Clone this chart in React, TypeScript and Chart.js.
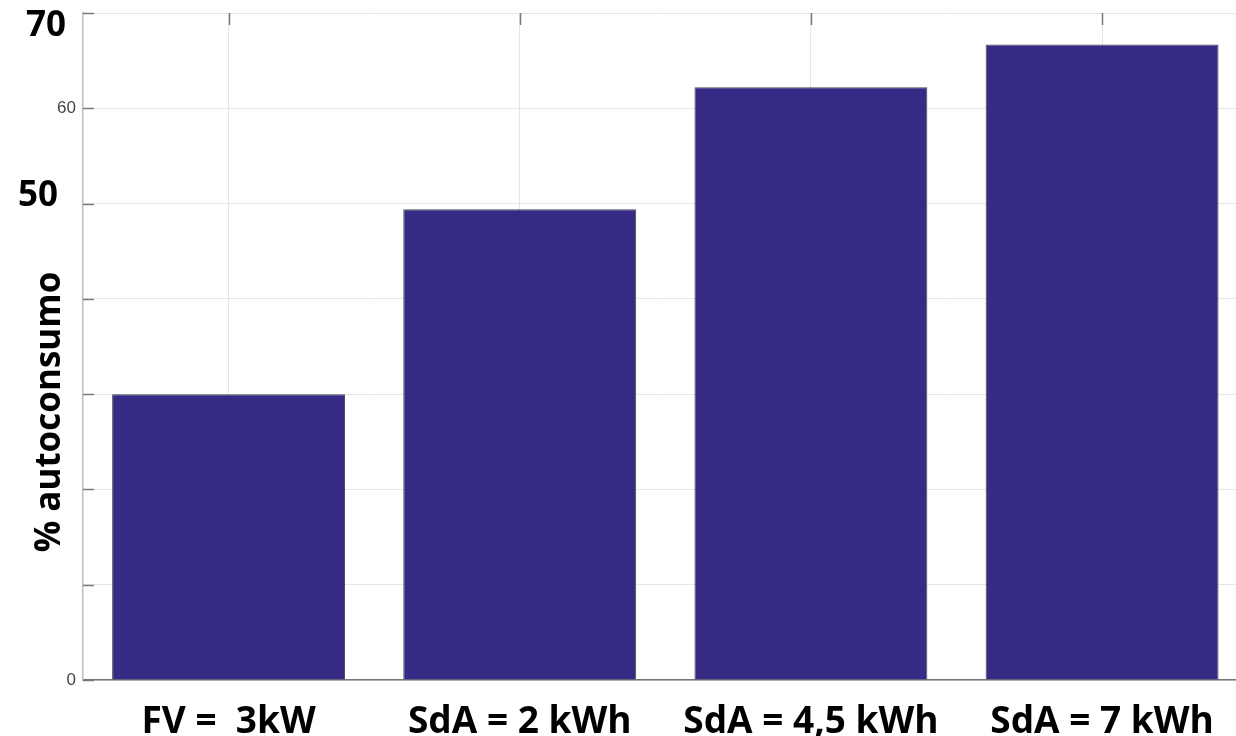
import React, { useEffect, useRef } from "react";
import { Chart, registerables } from "chart.js";

Chart.register(...registerables);

const categories = ["FV =  3kW", "SdA = 2 kWh", "SdA = 4,5 kWh", "SdA = 7 kWh"];
const values = [30, 49.4, 62.2, 66.7];
const yTitle = "% autoconsumo";
const ySmallTicks = [0, 60];
const yBigTicks = [70, 50];

const BIG_FONT = "'Open Sans'";
const SMALL_FONT = "'Liberation Sans'";

const decorPlugin = {
  id: "decor",
  afterDatasetsDraw(chart: any) {
    const { ctx, chartArea, scales } = chart;
    const y = scales.y;
    const x = scales.x;
    ctx.save();
    ctx.strokeStyle = "#7a7a7a";
    ctx.lineWidth = 1.5;
    for (let v = 0; v <= 70; v += 10) {
      const py = Math.round(y.getPixelForValue(v)) + 0.5;
      ctx.beginPath();
      ctx.moveTo(chartArea.left, py);
      ctx.lineTo(chartArea.left + 11, py);
      ctx.stroke();
    }
    categories.forEach((_, i) => {
      const px = Math.round(x.getPixelForValue(i)) + 0.5;
      ctx.beginPath();
      ctx.moveTo(px, chartArea.top);
      ctx.lineTo(px, chartArea.top + 12);
      ctx.stroke();
    });
    ctx.restore();
  },
  afterDraw(chart: any) {
    const { ctx, scales } = chart;
    const y = scales.y;
    ctx.save();
    ctx.fillStyle = "#000";
    ctx.font = `bold 35px ${BIG_FONT}`;
    ctx.textAlign = "right";
    ctx.textBaseline = "middle";
    ctx.fillText(String(yBigTicks[0]), 66, y.getPixelForValue(yBigTicks[0]) + 13);
    ctx.fillText(String(yBigTicks[1]), 58, y.getPixelForValue(yBigTicks[1]) - 8);
    ctx.translate(50, 412);
    ctx.rotate(-Math.PI / 2);
    ctx.textAlign = "center";
    ctx.fillText(yTitle, 0, 0);
    ctx.restore();
  },
};

export default function App() {
  const ref = useRef<HTMLCanvasElement | null>(null);
  useEffect(() => {
    if (!ref.current) return;
    const chart = new Chart(ref.current, {
      type: "bar",
      data: {
        datasets: [
          {
            data: values.map((v, i) => ({ x: i, y: v })),
            backgroundColor: "#352a84",
            borderColor: "#4a4a4a",
            borderWidth: 1,
            barPercentage: 0.8,
            categoryPercentage: 1,
          },
        ],
      },
      options: {
        animation: false,
        responsive: true,
        maintainAspectRatio: false,
        layout: { padding: { top: 13, left: 0, right: 0, bottom: 0 } },
        plugins: { legend: { display: false }, tooltip: { enabled: false } },
        scales: {
          x: {
            type: "linear",
            offset: false,
            min: -0.5,
            max: 3.46,
            afterBuildTicks: (scale: any) => {
              scale.ticks = categories.map((_, i) => ({ value: i }));
            },
            afterFit: (scale: any) => {
              scale.height = 56;
              scale.paddingLeft = 0;
              scale.paddingRight = 0;
            },
            grid: { color: "#e6e6e6", drawTicks: false, lineWidth: 1, offset: false },
            border: { color: "#777", width: 1.5 },
            ticks: {
              autoSkip: false,
              maxRotation: 0,
              minRotation: 0,
              padding: 20,
              color: "#000",
              font: { family: BIG_FONT, weight: "bold", size: 37 },
              callback: (v: any) => categories[Math.round(Number(v))] ?? "",
            },
          },
          y: {
            min: 0,
            max: 70,
            afterFit: (scale: any) => {
              scale.width = 83;
              scale.paddingTop = 0;
              scale.paddingBottom = 0;
            },
            grid: { color: "#e6e6e6", drawTicks: false, lineWidth: 1 },
            border: { color: "#bdbdbd", width: 1.5 },
            ticks: {
              stepSize: 10,
              padding: 7,
              color: "#444",
              font: { family: SMALL_FONT, size: 17 },
              callback: (v: any) =>
                ySmallTicks.includes(Number(v)) ? String(v) : "",
            },
          },
        },
      },
      plugins: [decorPlugin],
    } as any);
    return () => chart.destroy();
  }, []);
  return (
    <div style={{ position: "absolute", left: 0, top: 0, width: 1236, height: 736, background: "#fff" }}>
      <canvas ref={ref} />
    </div>
  );
}
